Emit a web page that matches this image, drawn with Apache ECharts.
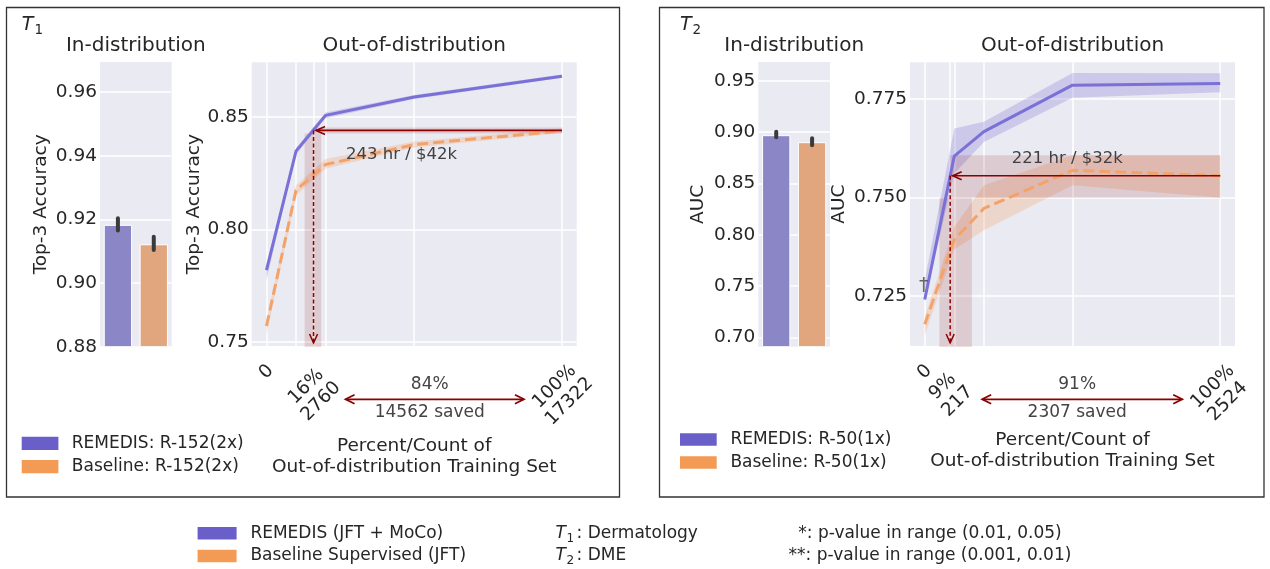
<!DOCTYPE html>
<html><head><meta charset="utf-8">
<script src="https://cdn.jsdelivr.net/npm/echarts@6/dist/echarts.min.js"></script>
<style>html,body{margin:0;padding:0;background:#fff}#c{width:1270px;height:569px}</style>
</head><body><div id="c"></div>
<script>
// ================= DATA =================
const barCategories = ['REMEDIS', 'Baseline'];
// T1 (Dermatology) in-distribution Top-3 accuracy
const t1BarValues = [0.9183, 0.9122];
const t1BarLow = [0.9165, 0.9104];
const t1BarHigh = [0.9204, 0.9146];
// T2 (DME) in-distribution AUC
const t2BarValues = [0.8971, 0.8903];
const t2BarLow = [0.8952, 0.8874];
const t2BarHigh = [0.9004, 0.8942];

// T1 out-of-distribution curves (x = count of OOD training examples)
const t1Counts = [0, 1732, 3464, 8661, 17322];
const t1Remedis = [0.7819, 0.8348, 0.8507, 0.8589, 0.8681];
const t1RemedisLow = [0.7775, 0.8333, 0.8494, 0.8580, 0.8674];
const t1RemedisHigh = [0.7838, 0.8362, 0.8520, 0.8598, 0.8689];
const t1Baseline = [0.7570, 0.8174, 0.8288, 0.8377, 0.8438];
const t1BaselineLow = [0.7530, 0.8152, 0.8270, 0.8364, 0.8428];
const t1BaselineHigh = [0.7597, 0.8196, 0.8313, 0.8391, 0.8450];

// T2 out-of-distribution curves
const t2Counts = [0, 252, 505, 1262, 2524];
const t2Remedis = [0.7241, 0.7605, 0.7667, 0.7785, 0.7789];
const t2RemedisLow = [0.7235, 0.7561, 0.7641, 0.7753, 0.7767];
const t2RemedisHigh = [0.7290, 0.7675, 0.7692, 0.7816, 0.7815];
const t2Baseline = [0.7178, 0.7393, 0.7472, 0.7569, 0.7555];
const t2BaselineLow = [0.7150, 0.7368, 0.7417, 0.7531, 0.7499];
const t2BaselineHigh = [0.7197, 0.7425, 0.7531, 0.7607, 0.7607];

// tick values / labels
const t1BarYTicks = [0.88, 0.90, 0.92, 0.94, 0.96];
const t2BarYTicks = [0.70, 0.75, 0.80, 0.85, 0.90, 0.95];
const t1LineYTicks = [0.75, 0.80, 0.85];
const t2LineYTicks = [0.725, 0.750, 0.775];
const t1XGridValues = [0, 1732, 2760, 3464, 8661, 17322];
const t2XGridValues = [0, 217, 252, 505, 1262, 2524];
const t1XTickValues = [0, 2760, 17322];
const t1XTickLabels = ['0', '16%\n2760', '100%\n17322'];
const t2XTickValues = [0, 217, 2524];
const t2XTickLabels = ['0', '9%\n217', '100%\n2524'];

// annotations (data units)
const t1CrossCount = 2760, t1FullCount = 17322, t1Target = 0.8440;
const t1TargetBand = [0.8426, 0.8453];
const t1CrossBand = [2236, 3211];
const t1CostText = '243 hr / $42k';
const t1CostAt = [7922, 0.8333];
const t1SavedPct = '84%', t1SavedCount = '14562 saved';

const t2CrossCount = 217, t2FullCount = 2524, t2Target = 0.7555;
const t2TargetBand = [0.7499, 0.7607];
const t2CrossBand = [125, 403];
const t2CostText = '221 hr / $32k';
const t2CostAt = [1218, 0.7599];
const t2SavedPct = '91%', t2SavedCount = '2307 saved';
const t2MarkText = '†';
const t2MarkAt = [0, 0.7274];

// ================= STYLE =================
const INK = '#262626';
const FONT = 'DejaVu Sans';
const BG = '#eaeaf2';
const PURPLE_LINE = '#7a71d6', ORANGE_LINE = '#f3a36a';
const PURPLE_BAND = 'rgba(122,112,214,0.27)', ORANGE_BAND = 'rgba(243,160,100,0.27)';
const BAR_COLORS = ['#8b86c5', '#e1a67d'];
const SWATCH = ['#6a5fc8', '#f39a55'];
const RED = '#8b0000', SHADE = 'rgba(139,0,0,0.13)';

function gridBox(left, top, width, height) {
  return { left, top, width, height, show: true, backgroundColor: BG, borderWidth: 0,
           containLabel: false, outerBoundsMode: 'none' };
}
function yAxisOf(gridIndex, min, max, ticks, dec, name, nameGap) {
  return {
    type: 'value', gridIndex, min, max, name, nameLocation: 'middle', nameGap, nameRotate: 90,
    nameMoveOverlap: false,
    nameTextStyle: { fontFamily: FONT, fontSize: 18.5, color: INK },
    axisLine: { show: false }, axisTick: { show: false, customValues: ticks },
    axisLabel: { customValues: ticks, formatter: v => Number(v).toFixed(dec), margin: 3,
                 fontFamily: FONT, fontSize: 18.5, color: INK },
    splitLine: { show: true, lineStyle: { color: '#ffffff', width: 1.5 } }
  };
}
function catXAxis(gridIndex) {
  return { type: 'category', gridIndex, data: barCategories, axisLine: { show: false },
           axisTick: { show: false }, axisLabel: { show: false }, splitLine: { show: false } };
}
function labelText(vals, texts) {
  return v => { const i = vals.findIndex(t => Math.abs(t - v) < 1e-6); return i >= 0 ? texts[i] : ''; };
}
function valueXAxis(gridIndex, min, max, gridVals, labelVals, labelTexts, nameGap) {
  return {
    type: 'value', gridIndex, min, max, position: 'bottom',
    name: 'Percent/Count of\nOut-of-distribution Training Set', nameLocation: 'middle', nameGap,
    nameMoveOverlap: false,
    nameTextStyle: { fontFamily: FONT, fontSize: 18.5, color: INK, lineHeight: 21 },
    axisLine: { show: false }, axisTick: { show: false, customValues: gridVals },
    axisLabel: { customValues: labelVals, formatter: labelText(labelVals, labelTexts), rotate: 45,
                 align: 'center', verticalAlign: 'middle', margin: 48, lineHeight: 21,
                 fontFamily: FONT, fontSize: 18.5, color: INK },
    splitLine: { show: true, lineStyle: { color: '#ffffff', width: 1.5 } }
  };
}
function zeroXAxis(gridIndex, min, max, labelVals, labelTexts) {
  return {
    type: 'value', gridIndex, min, max, position: 'bottom',
    axisLine: { show: false }, axisTick: { show: false, customValues: labelVals },
    axisLabel: { customValues: labelVals, formatter: labelText(labelVals, labelTexts), rotate: 45,
                 align: 'center', verticalAlign: 'middle', margin: 26,
                 fontFamily: FONT, fontSize: 18.5, color: INK },
    splitLine: { show: false }
  };
}
function barSeries(xi, yi, values) {
  return { type: 'bar', xAxisIndex: xi, yAxisIndex: yi, barWidth: '79%', clip: true, silent: true, z: 2,
           itemStyle: { borderColor: '#ffffff', borderWidth: 1 },
           data: values.map((v, i) => ({ value: v, itemStyle: { color: BAR_COLORS[i] } })) };
}
function errSeries(xi, yi, lo, hi) {
  return { type: 'custom', xAxisIndex: xi, yAxisIndex: yi, silent: true, z: 4,
    data: barCategories.map((c, i) => [i, lo[i], hi[i]]),
    renderItem: (params, api) => {
      const a = api.coord([api.value(0), api.value(1)]);
      const b = api.coord([api.value(0), api.value(2)]);
      return { type: 'line', shape: { x1: a[0], y1: a[1], x2: b[0], y2: b[1] },
               style: { stroke: '#3b3b3b', lineWidth: 4, lineCap: 'round' } };
    } };
}
function bandSeries(xi, yi, xs, lo, hi, color) {
  return { type: 'custom', xAxisIndex: xi, yAxisIndex: yi, silent: true, z: 1, clip: true,
    data: xs.map((x, i) => [x, lo[i], hi[i]]),
    renderItem: (params, api) => {
      if (params.dataIndex !== 0) return null;
      const up = xs.map((x, i) => api.coord([x, hi[i]]));
      const dn = xs.map((x, i) => api.coord([x, lo[i]])).reverse();
      return { type: 'polygon', shape: { points: up.concat(dn) }, style: { fill: color } };
    } };
}
function lineSeries(xi, yi, xs, ys, color, dashed) {
  return { type: 'line', xAxisIndex: xi, yAxisIndex: yi, silent: true, z: 3, symbol: 'none',
           data: xs.map((x, i) => [x, ys[i]]),
           lineStyle: { color, width: 3, type: dashed ? [11, 5] : 'solid', cap: 'butt' } };
}
function shadeSeries(xi, yi, a) {
  return { type: 'custom', xAxisIndex: xi, yAxisIndex: yi, silent: true, z: 2, clip: false,
    data: [[a.cross, a.target]],
    renderItem: (params, api) => {
      const cs = params.coordSys, bottom = cs.y + cs.height;
      const pc = api.coord([a.cross, a.target]), pf = api.coord([a.full, a.target]);
      const bHi = api.coord([a.cross, a.band[1]])[1], bLo = api.coord([a.cross, a.band[0]])[1];
      const vL = api.coord([a.crossBand[0], a.target])[0], vR = api.coord([a.crossBand[1], a.target])[0];
      return { type: 'group', children: [
        { type: 'rect', shape: { x: pc[0], y: bHi, width: pf[0] - pc[0], height: bLo - bHi }, style: { fill: SHADE } },
        { type: 'rect', shape: { x: vL, y: bLo, width: vR - vL, height: bottom + 1 - bLo }, style: { fill: SHADE } }
      ] };
    } };
}
function txt(x, y, text, size, color) {
  return { type: 'text', x, y, style: { text, fill: color, fontSize: size, fontFamily: FONT,
           align: 'center', verticalAlign: 'middle' } };
}
function arrowSeries(xi, yi, a) {
  return { type: 'custom', xAxisIndex: xi, yAxisIndex: yi, silent: true, z: 6, clip: false,
    data: [[a.cross, a.target]],
    renderItem: (params, api) => {
      const cs = params.coordSys, bottom = cs.y + cs.height;
      const pc = api.coord([a.cross, a.target]), pf = api.coord([a.full, a.target]);
      const y = pc[1], tip = pc[0] + 2.5, vx = pc[0], vTip = bottom - 3;
      const tp = api.coord(a.textAt);
      const yA = bottom + 53.3, xL = pc[0] + 32, xR = pf[0] - 38, mid = (xL + xR) / 2 - 5;
      const kids = [
        { type: 'line', shape: { x1: pf[0], y1: y, x2: tip, y2: y }, style: { stroke: RED, lineWidth: 1.6 } },
        { type: 'polyline', shape: { points: [[tip + 9, y - 4], [tip, y], [tip + 9, y + 4]] }, style: { stroke: RED, lineWidth: 1.6, fill: null } },
        { type: 'line', shape: { x1: vx, y1: y, x2: vx, y2: vTip }, style: { stroke: RED, lineWidth: 1.5, lineDash: [4, 2.5] } },
        { type: 'polyline', shape: { points: [[vx - 4, vTip - 9], [vx, vTip], [vx + 4, vTip - 9]] }, style: { stroke: RED, lineWidth: 1.5, fill: null } },
        txt(tp[0], tp[1], a.text, 16.5, '#404040'),
        { type: 'line', shape: { x1: xL, y1: yA, x2: xR, y2: yA }, style: { stroke: RED, lineWidth: 1.8 } },
        { type: 'polyline', shape: { points: [[xL + 9, yA - 4.5], [xL, yA], [xL + 9, yA + 4.5]] }, style: { stroke: RED, lineWidth: 1.8, fill: null } },
        { type: 'polyline', shape: { points: [[xR - 9, yA - 4.5], [xR, yA], [xR - 9, yA + 4.5]] }, style: { stroke: RED, lineWidth: 1.8, fill: null } },
        txt(mid, bottom + 38.3, a.pct, 17, '#444444'),
        txt(mid, bottom + 66.7, a.saved, 17, '#444444')
      ];
      if (a.mark) {
        const m = api.coord(a.markAt);
        kids.push(txt(m[0] - 1, m[1], a.mark, 19, 'rgba(80,80,80,0.85)'));
      }
      return { type: 'group', children: kids };
    } };
}
function legendSeries(name, color) {
  return { type: 'scatter', name, xAxisIndex: 1, yAxisIndex: 1, data: [], itemStyle: { color, opacity: 1 } };
}
function legendBox(names, left, top, gap, w, h, textPad, colors) {
  return { data: names.map((n, i) => ({ name: n, itemStyle: { color: colors[i], opacity: 1 } })),
           orient: 'vertical', left, top, padding: 0, itemGap: gap, itemWidth: w, itemHeight: h,
           icon: 'rect', selectedMode: false,
           textStyle: { fontFamily: FONT, fontSize: 17, color: INK, lineHeight: 20, padding: [0, 0, 0, textPad] } };
}

const ann1 = { cross: t1CrossCount, full: t1FullCount, target: t1Target, band: t1TargetBand,
               crossBand: t1CrossBand, text: t1CostText, textAt: t1CostAt, pct: t1SavedPct, saved: t1SavedCount };
const ann2 = { cross: t2CrossCount, full: t2FullCount, target: t2Target, band: t2TargetBand,
               crossBand: t2CrossBand, text: t2CostText, textAt: t2CostAt, pct: t2SavedPct, saved: t2SavedCount,
               mark: t2MarkText, markAt: t2MarkAt };

const t1XMin = -0.05 * t1FullCount, t1XMax = 1.05 * t1FullCount;
const t2XMin = -0.05 * t2FullCount, t2XMax = 1.05 * t2FullCount;

function gtext(x, y, text, size, opts) {
  return Object.assign({ type: 'text', x, y, silent: true,
    style: Object.assign({ text, fill: INK, fontSize: size, fontFamily: FONT, align: 'left', verticalAlign: 'middle' }, opts || {}) });
}

const option = {
  animation: false,
  backgroundColor: '#ffffff',
  grid: [
    gridBox(100, 62, 71.7, 284.7),
    gridBox(251.7, 62.3, 325, 283.7),
    gridBox(758.3, 62, 71.7, 284.7),
    gridBox(910, 62.3, 325, 283.7)
  ],
  xAxis: [
    catXAxis(0),
    valueXAxis(1, t1XMin, t1XMax, t1XGridValues, t1XTickValues.slice(1), t1XTickLabels.slice(1), 90),
    zeroXAxis(1, t1XMin, t1XMax, t1XTickValues.slice(0, 1), t1XTickLabels.slice(0, 1)),
    catXAxis(2),
    valueXAxis(3, t2XMin, t2XMax, t2XGridValues, t2XTickValues.slice(1), t2XTickLabels.slice(1), 84),
    zeroXAxis(3, t2XMin, t2XMax, t2XTickValues.slice(0, 1), t2XTickLabels.slice(0, 1))
  ],
  yAxis: [
    yAxisOf(0, 0.88, 0.9695, t1BarYTicks, 2, 'Top-3 Accuracy', 49),
    yAxisOf(1, 0.7481, 0.8743, t1LineYTicks, 2, 'Top-3 Accuracy', 48),
    yAxisOf(2, 0.6908, 0.9685, t2BarYTicks, 2, 'AUC', 50.5),
    yAxisOf(3, 0.7123, 0.7843, t2LineYTicks, 3, 'AUC', 61.5)
  ],
  legend: [
    legendBox(['REMEDIS: R-152(2x)', 'Baseline: R-152(2x)'], 21.7, 433.3, 3.4, 36.7, 13.3, 8.4, SWATCH),
    legendBox(['REMEDIS: R-50(1x)', 'Baseline: R-50(1x)'], 680, 429.5, 3, 36.7, 12.7, 8.7, SWATCH),
    legendBox(['REMEDIS (JFT + MoCo)', 'Baseline Supervised (JFT)'], 197.6, 523.3, 2.7, 39, 12.5, 8.8, SWATCH)
  ],
  series: [
    barSeries(0, 0, t1BarValues), errSeries(0, 0, t1BarLow, t1BarHigh),
    barSeries(3, 2, t2BarValues), errSeries(3, 2, t2BarLow, t2BarHigh),
    bandSeries(1, 1, t1Counts, t1RemedisLow, t1RemedisHigh, PURPLE_BAND),
    bandSeries(1, 1, t1Counts, t1BaselineLow, t1BaselineHigh, ORANGE_BAND),
    shadeSeries(1, 1, ann1),
    lineSeries(1, 1, t1Counts, t1Remedis, PURPLE_LINE, false),
    lineSeries(1, 1, t1Counts, t1Baseline, ORANGE_LINE, true),
    arrowSeries(1, 1, ann1),
    bandSeries(4, 3, t2Counts, t2RemedisLow, t2RemedisHigh, PURPLE_BAND),
    bandSeries(4, 3, t2Counts, t2BaselineLow, t2BaselineHigh, ORANGE_BAND),
    shadeSeries(4, 3, ann2),
    lineSeries(4, 3, t2Counts, t2Remedis, PURPLE_LINE, false),
    lineSeries(4, 3, t2Counts, t2Baseline, ORANGE_LINE, true),
    arrowSeries(4, 3, ann2),
    legendSeries('REMEDIS: R-152(2x)', SWATCH[0]), legendSeries('Baseline: R-152(2x)', SWATCH[1]),
    legendSeries('REMEDIS: R-50(1x)', SWATCH[0]), legendSeries('Baseline: R-50(1x)', SWATCH[1]),
    legendSeries('REMEDIS (JFT + MoCo)', SWATCH[0]), legendSeries('Baseline Supervised (JFT)', SWATCH[1])
  ],
  graphic: [
    { type: 'rect', silent: true, shape: { x: 6.5, y: 7.5, width: 613, height: 489.5 }, style: { fill: 'none', stroke: '#333333', lineWidth: 1.3 } },
    { type: 'rect', silent: true, shape: { x: 659.5, y: 7.5, width: 604.5, height: 489.5 }, style: { fill: 'none', stroke: '#333333', lineWidth: 1.3 } },
    gtext(21.7, 25, 'T', 19, { fontStyle: 'italic' }), gtext(34.5, 30.5, '1', 13.5),
    gtext(680, 25, 'T', 19, { fontStyle: 'italic' }), gtext(692.5, 30.5, '2', 13.5),
    gtext(135.85, 46, 'In-distribution', 20, { align: 'center' }),
    gtext(414.2, 46, 'Out-of-distribution', 20, { align: 'center' }),
    gtext(794.2, 46, 'In-distribution', 20, { align: 'center' }),
    gtext(1072.5, 46, 'Out-of-distribution', 20, { align: 'center' }),
    gtext(555.6, 533.3, 'T', 17, { fontStyle: 'italic' }), gtext(566.5, 538.5, '1', 12), gtext(576.5, 533.3, ': Dermatology', 17),
    gtext(555.6, 556, 'T', 17, { fontStyle: 'italic' }), gtext(566.5, 561.2, '2', 12), gtext(576.5, 556, ': DME', 17),
    gtext(930, 533.3, '*: p-value in range (0.01, 0.05)', 17, { align: 'center' }),
    gtext(930, 556, '**: p-value in range (0.001, 0.01)', 17, { align: 'center' })
  ]
};

const chart = echarts.init(document.getElementById('c'), null, { renderer: 'canvas' });
chart.setOption(option);
</script>
</body></html>
